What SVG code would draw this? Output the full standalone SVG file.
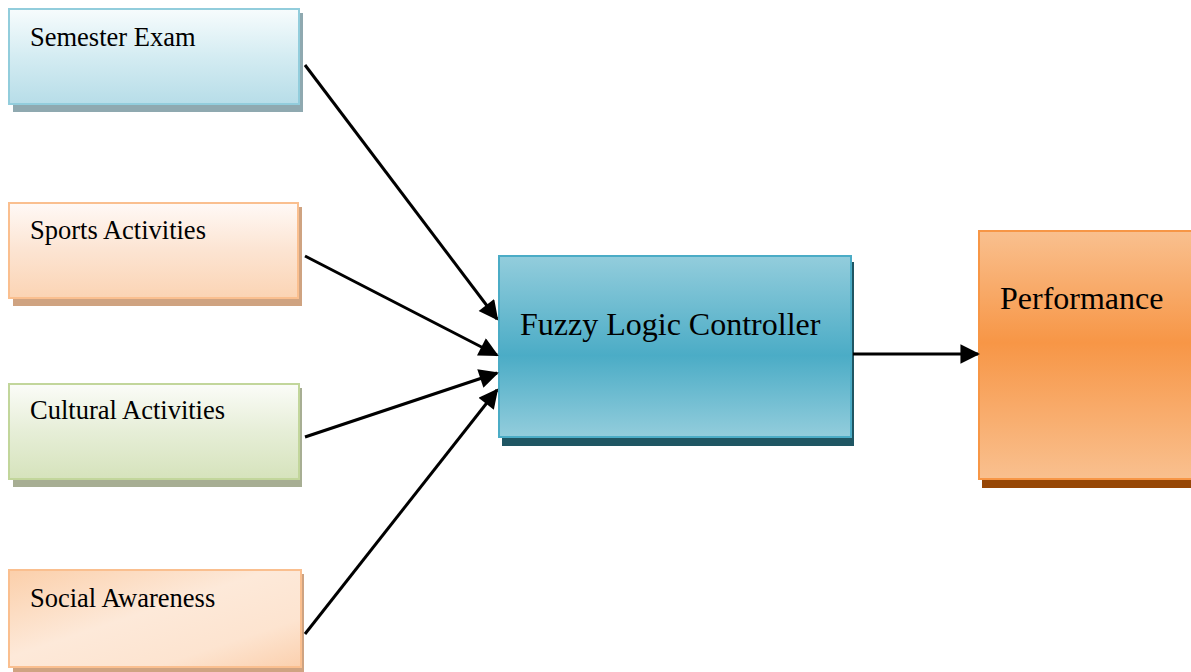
<svg xmlns="http://www.w3.org/2000/svg" width="1191" height="672" viewBox="0 0 1191 672">
<style>
text{font-family:"Liberation Serif","Times New Roman",serif;fill:#000}
.small{font-size:26.5px}
.big{font-size:32px}
.conn{stroke:#000;stroke-width:3;fill:none}
</style>
<defs>
<marker id="ah" viewBox="0 0 10 10" refX="9" refY="5" markerWidth="7" markerHeight="6.5" orient="auto" markerUnits="strokeWidth">
<path d="M0,0 L10,5 L0,10 z" fill="#000"/>
</marker>
<linearGradient id="gBlue" x1="0" y1="0" x2="0" y2="1">
<stop offset="0" stop-color="#f7fcfd"/><stop offset="0.5" stop-color="#d4ecf2"/><stop offset="1" stop-color="#b7dde8"/>
</linearGradient>
<linearGradient id="gPeach" x1="0" y1="0" x2="0" y2="1">
<stop offset="0" stop-color="#fff9f6"/><stop offset="0.5" stop-color="#fce4d2"/><stop offset="1" stop-color="#fbd4b4"/>
</linearGradient>
<linearGradient id="gGreen" x1="0" y1="0" x2="0" y2="1">
<stop offset="0" stop-color="#fbfcf8"/><stop offset="0.5" stop-color="#e6eed7"/><stop offset="1" stop-color="#d6e3bc"/>
</linearGradient>
<linearGradient id="gSocial" x1="0" y1="0" x2="1" y2="1">
<stop offset="0" stop-color="#fbcfaa"/><stop offset="0.45" stop-color="#fde9d9"/><stop offset="0.75" stop-color="#fde4d0"/><stop offset="1" stop-color="#fbd0ae"/>
</linearGradient>
<linearGradient id="gFuzzy" x1="0" y1="0" x2="0" y2="1">
<stop offset="0" stop-color="#93cddc"/><stop offset="0.55" stop-color="#4bacc6"/><stop offset="1" stop-color="#93cddc"/>
</linearGradient>
<linearGradient id="gPerf" x1="0" y1="0" x2="0" y2="1">
<stop offset="0" stop-color="#f9c08f"/><stop offset="0.45" stop-color="#f79646"/><stop offset="1" stop-color="#f9c08f"/>
</linearGradient>
</defs>

<g id="semester-exam">
<rect x="13" y="13" width="290" height="99" fill="#8fa9b0"/>
<rect x="9" y="9" width="290" height="95" fill="url(#gBlue)" stroke="#92cddc" stroke-width="2"/>
<text class="small" x="30" y="46">Semester Exam</text>
</g>

<g id="sports-activities">
<rect x="13" y="207" width="289" height="99" fill="#cfa381"/>
<rect x="9" y="203" width="289" height="95" fill="url(#gPeach)" stroke="#fabf8f" stroke-width="2"/>
<text class="small" x="30" y="239">Sports Activities</text>
</g>

<g id="cultural-activities">
<rect x="13" y="388" width="289" height="99" fill="#a7ae93"/>
<rect x="9" y="384" width="290" height="95" fill="url(#gGreen)" stroke="#c2d69b" stroke-width="2"/>
<text class="small" x="30" y="419">Cultural Activities</text>
</g>

<g id="social-awareness">
<rect x="13" y="574" width="291" height="101" fill="#cfa381"/>
<rect x="9" y="570" width="292" height="97" fill="url(#gSocial)" stroke="#fabf8f" stroke-width="2"/>
<text class="small" x="30" y="607">Social Awareness</text>
</g>

<g id="fuzzy-logic-controller">
<rect x="502" y="262" width="352" height="184" fill="#1f5663"/>
<rect x="499" y="256" width="352" height="181" fill="url(#gFuzzy)" stroke="#4bacc6" stroke-width="2"/>
<text class="big" x="520" y="335">Fuzzy Logic Controller</text>
</g>

<g id="performance">
<rect x="982" y="236" width="215" height="252" fill="#974706"/>
<rect x="979" y="231" width="216" height="248" fill="url(#gPerf)" stroke="#f79646" stroke-width="2"/>
<text class="big" x="1000" y="309">Performance</text>
</g>

<g id="connectors">
<line class="conn" x1="305" y1="65" x2="497" y2="319" marker-end="url(#ah)"/>
<line class="conn" x1="305" y1="256" x2="497" y2="355" marker-end="url(#ah)"/>
<line class="conn" x1="305" y1="437" x2="497" y2="373" marker-end="url(#ah)"/>
<line class="conn" x1="305" y1="634" x2="497" y2="390" marker-end="url(#ah)"/>
<line class="conn" x1="853" y1="354" x2="978" y2="354" marker-end="url(#ah)"/>
</g>
</svg>
